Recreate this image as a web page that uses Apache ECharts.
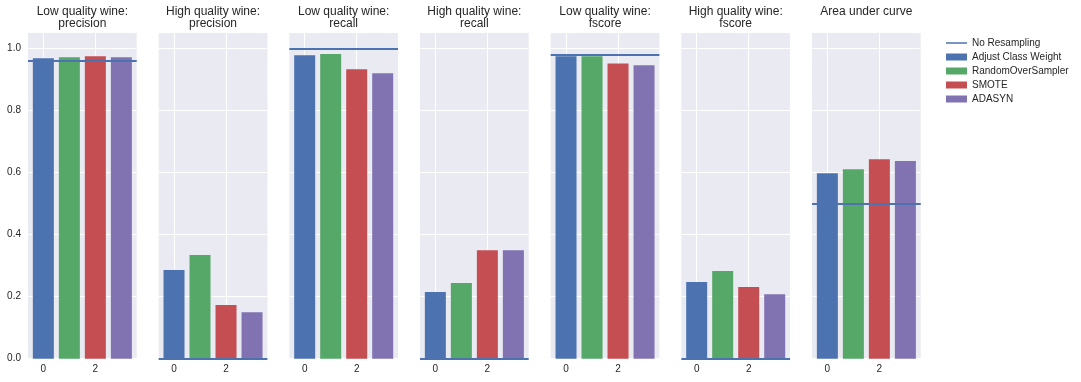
<!DOCTYPE html>
<html>
<head>
<meta charset="utf-8">
<script src="https://cdn.jsdelivr.net/npm/echarts@6/dist/echarts.min.js"></script>
<style>
html,body{margin:0;padding:0;background:#fff;}
#chart{width:1081px;height:382px;}
</style>
</head>
<body>
<div id="chart"></div>
<script>
// ---- data ----
const panelTitles = [
  'Low quality wine:\nprecision',
  'High quality wine:\nprecision',
  'Low quality wine:\nrecall',
  'High quality wine:\nrecall',
  'Low quality wine:\nfscore',
  'High quality wine:\nfscore',
  'Area under curve'
];
const methodNames = ['Adjust Class Weight', 'RandomOverSampler', 'SMOTE', 'ADASYN'];
const baselineName = 'No Resampling';
const adjustClassWeight = [0.969, 0.286, 0.978, 0.215, 0.975, 0.247, 0.598];
const randomOverSampler = [0.972, 0.334, 0.982, 0.244, 0.975, 0.283, 0.611];
const smote            = [0.975, 0.173, 0.933, 0.350, 0.952, 0.231, 0.643];
const adasyn           = [0.972, 0.150, 0.920, 0.350, 0.946, 0.208, 0.637];
const noResampling     = [0.962, 0.0, 1.0, 0.0, 0.984, 0.0, 0.503];
const xTickValues = [0, 2];
const yTickValues = [0, 0.2, 0.4, 0.6, 0.8, 1.0];

// ---- styling ----
const methodValues = [adjustClassWeight, randomOverSampler, smote, adasyn];
const colors = ['#4C72B0', '#55A868', '#C44E52', '#8172B2'];
const lineColor = '#4C72B0';
const font = 'Liberation Sans, Arial, sans-serif';
const textColor = '#262626';
// thin horizontal line icon (tiny corner triangles fix the bounding box)
const lineIcon = 'path://M0,0L0.01,0L0,0.01Z M0,2.75L21,2.75L21,4.25L0,4.25Z M21,7L20.99,7L21,6.99Z';

const nPanels = panelTitles.length;
const gridLeft0 = 28, gridStep = 130.67, gridW = 108.7, gridTop = 33, gridBottom = 23.3;

const grids = [], xAxes = [], yAxes = [], titles = [], series = [];
for (let p = 0; p < nPanels; p++) {
  const left = gridLeft0 + gridStep * p;
  grids.push({
    left: left, width: gridW, top: gridTop, bottom: gridBottom,
    show: true, backgroundColor: '#EAEAF2', borderWidth: 0, containLabel: false
  });
  titles.push({
    text: panelTitles[p],
    left: left + gridW / 2, top: 5.5, textAlign: 'center', padding: 0,
    textStyle: { fontFamily: font, fontSize: 12, fontWeight: 'normal', color: textColor, lineHeight: 12 }
  });
  xAxes.push({
    gridIndex: p, type: 'value', min: -0.59, max: 3.59,
    axisLine: { show: false },
    axisTick: { show: false, customValues: xTickValues },
    axisLabel: { customValues: xTickValues, fontFamily: font, fontSize: 10, color: textColor, margin: 6 },
    splitLine: { show: true, lineStyle: { color: '#ffffff', width: 1 } }
  });
  yAxes.push({
    gridIndex: p, type: 'value', min: 0, max: 1.05, interval: 0.2,
    axisLine: { show: false },
    axisTick: { show: false, customValues: yTickValues },
    axisLabel: {
      show: p === 0, customValues: yTickValues, fontFamily: font, fontSize: 10, color: textColor, margin: 7,
      formatter: v => Number(v).toFixed(1)
    },
    splitLine: { show: true, lineStyle: { color: '#ffffff', width: 1 } }
  });
  for (let m = 0; m < methodNames.length; m++) {
    series.push({
      name: methodNames[m], type: 'bar', xAxisIndex: p, yAxisIndex: p,
      data: [[m, methodValues[m][p]]],
      barWidth: 21, barGap: '-100%',
      itemStyle: { color: colors[m] },
      silent: true, z: 2
    });
  }
  series.push({
    name: baselineName, type: 'bar', xAxisIndex: p, yAxisIndex: p,
    data: [], barWidth: 21, barGap: '-100%',
    itemStyle: { color: lineColor },
    z: 5,
    markLine: {
      silent: true, symbol: ['none', 'none'], label: { show: false },
      lineStyle: { color: lineColor, width: 2, type: 'solid' },
      emphasis: { disabled: true },
      data: [{ yAxis: noResampling[p] }]
    }
  });
}

const chart = echarts.init(document.getElementById('chart'), null, { renderer: 'canvas' });
chart.setOption({
  animation: false,
  backgroundColor: '#ffffff',
  title: titles,
  grid: grids,
  xAxis: xAxes,
  yAxis: yAxes,
  legend: {
    data: [{ name: baselineName, icon: lineIcon }].concat(methodNames.map(n => ({ name: n, icon: 'rect' }))),
    orient: 'vertical', left: 946, top: 38, padding: 0,
    itemWidth: 21, itemHeight: 7, itemGap: 4,
    textStyle: { fontFamily: font, fontSize: 10, color: textColor, lineHeight: 10 },
    selectedMode: false
  },
  series: series
});
</script>
</body>
</html>
